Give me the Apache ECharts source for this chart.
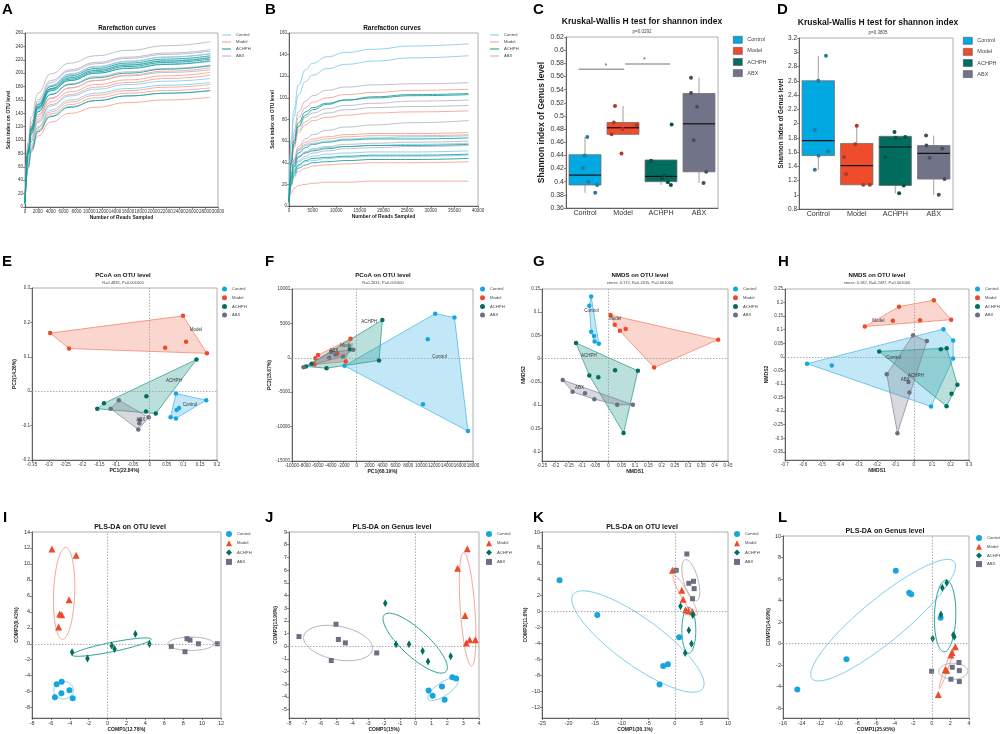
<!DOCTYPE html>
<html>
<head>
<meta charset="utf-8">
<title>Diversity panels A-L</title>
<script src="https://cdn.jsdelivr.net/npm/echarts@6/dist/echarts.min.js"></script>
<style>
    html, body { margin: 0; padding: 0; background: #fff; }
    #main { width: 1000px; height: 734px; }
</style>
</head>
<body>
<div id="main"></div>
<script>
var FONT = '"Liberation Sans", Arial, Helvetica, sans-serif';
var groups = ['Control', 'Model', 'ACHPH', 'ABX'];

// ---- A: rarefaction (OTU) ----
var rareA_x = [0, 500, 1000, 2000, 4000, 7000, 11000, 16000, 22000, 28800];
var rareA_Control = [
    [6, 84, 118, 152, 181, 198, 209, 217, 224, 229],
    [7, 82, 115, 148, 177, 194, 205, 213, 219, 224],
    [6, 80, 112, 145, 173, 189, 200, 208, 214, 219],
    [5, 70, 98, 126, 151, 166, 176, 183, 188, 192],
    [5, 66, 93, 120, 145, 160, 170, 177, 182, 186],
    [5, 62, 87, 113, 136, 150, 159, 166, 170, 174]];
var rareA_Model = [
    [6, 74, 104, 135, 162, 178, 189, 197, 203, 208],
    [6, 72, 101, 131, 157, 172, 183, 190, 196, 201],
    [5, 70, 98, 128, 153, 168, 179, 186, 192, 197],
    [5, 64, 90, 118, 142, 157, 167, 174, 179, 183],
    [5, 62, 88, 115, 139, 153, 163, 170, 174, 178],
    [5, 58, 82, 106, 127, 140, 149, 156, 160, 164]];
var rareA_ACHPH = [
    [7, 86, 120, 153, 180, 196, 207, 215, 221, 226],
    [6, 84, 117, 150, 177, 193, 204, 212, 218, 223],
    [6, 83, 116, 149, 176, 191, 202, 210, 216, 221],
    [6, 82, 114, 147, 174, 189, 200, 207, 213, 218],
    [6, 79, 110, 142, 168, 183, 193, 200, 206, 211],
    [5, 60, 85, 112, 135, 149, 159, 166, 170, 174]];
var rareA_ABX = [
    [8, 98, 135, 170, 199, 215, 226, 234, 241, 247],
    [7, 92, 127, 160, 189, 205, 216, 224, 230, 235],
    [6, 88, 123, 157, 186, 203, 214, 222, 228, 233],
    [7, 86, 120, 154, 182, 199, 210, 218, 224, 229],
    [6, 80, 112, 143, 169, 184, 195, 202, 207, 212],
    [6, 78, 108, 138, 163, 178, 189, 196, 201, 205]];

// ---- B: rarefaction (second dataset) ----
var rareB_x = [0, 500, 1000, 2000, 3500, 5000, 8000, 12000, 18000, 26000, 38000];
var rareB_Control = [
    [6, 62, 88, 112, 126, 132, 138, 142, 145, 148, 150],
    [6, 58, 82, 103, 115, 121, 127, 131, 134, 137, 139],
    [4, 30, 41, 51, 56, 58, 60, 62, 63, 64, 65],
    [4, 27, 37, 46, 50, 52, 54, 55, 56, 57, 58],
    [3, 24, 33, 41, 44, 46, 48, 49, 50, 50, 51],
    [3, 22, 30, 37, 41, 42, 44, 45, 46, 46, 47]];
var rareB_Model = [
    [5, 45, 64, 82, 91, 96, 100, 103, 105, 107, 108],
    [5, 38, 54, 68, 75, 79, 82, 84, 86, 87, 88],
    [4, 30, 42, 53, 59, 62, 64, 66, 67, 67, 68],
    [4, 29, 41, 52, 57, 60, 62, 64, 65, 65, 66],
    [3, 19, 26, 32, 35, 37, 38, 39, 40, 40, 41],
    [2, 12, 16, 19, 20, 21, 22, 22, 23, 23, 23]];
var rareB_ACHPH = [
    [5, 40, 57, 74, 84, 89, 94, 98, 101, 103, 104],
    [5, 42, 60, 77, 87, 91, 95, 98, 100, 102, 103],
    [4, 28, 39, 49, 54, 57, 59, 61, 62, 62, 63],
    [4, 26, 36, 45, 49, 51, 53, 55, 56, 56, 57],
    [3, 22, 31, 38, 42, 44, 45, 46, 47, 47, 48],
    [3, 20, 28, 35, 38, 40, 41, 42, 43, 43, 44]];
var rareB_ABX = [
    [5, 48, 68, 87, 97, 102, 107, 110, 112, 113, 114],
    [5, 40, 57, 73, 82, 86, 90, 93, 95, 97, 98],
    [5, 38, 54, 70, 78, 82, 86, 89, 91, 92, 93],
    [4, 30, 43, 55, 62, 66, 70, 73, 75, 77, 79],
    [4, 26, 36, 45, 50, 53, 55, 57, 58, 59, 60],
    [3, 24, 33, 42, 46, 49, 51, 53, 54, 55, 56]];

// ---- C / D: box plots [min, q1, median, q3, max] and sample points [x, y] ----
var boxC = [[0.383, 0.395, 0.41, 0.441, 0.468], [0.472, 0.472, 0.482, 0.49, 0.515],
            [0.395, 0.4, 0.408, 0.433, 0.433], [0.398, 0.415, 0.488, 0.534, 0.558]];
var ptsC_Control = [[0.06, 0.468], [-0.01, 0.44], [-0.05, 0.421], [0.09, 0.4], [0.32, 0.395], [0.27, 0.383]];
var ptsC_Model = [[0.79, 0.515], [0.76, 0.49], [1.36, 0.486], [0.99, 0.48], [0.7, 0.472], [0.96, 0.443]];
var ptsC_ACHPH = [[2.28, 0.487], [1.74, 0.432], [2.09, 0.41], [2.03, 0.405], [2.18, 0.399], [2.26, 0.395]];
var ptsC_ABX = [[2.79, 0.558], [2.79, 0.535], [2.95, 0.514], [2.86, 0.463], [3.19, 0.415], [3.12, 0.398]];
var sigC = [[-0.17, 1.03, 0.571], [1.06, 2.24, 0.579]];
var starsC = [['*', 0.55, 0.571], ['*', 1.56, 0.579]];

var boxD = [[1.35, 1.55, 1.76, 2.6, 2.95], [1.14, 1.14, 1.41, 1.72, 1.97],
            [1.02, 1.13, 1.67, 1.82, 1.82], [1.0, 1.22, 1.58, 1.69, 1.83]];
var ptsD_Control = [[0.2, 2.95], [0, 2.6], [-0.09, 1.91], [0.01, 1.55], [0.26, 1.61], [-0.09, 1.35]];
var ptsD_Model = [[1.0, 1.97], [0.96, 1.71], [0.67, 1.53], [0.72, 1.29], [1.17, 1.14], [1.34, 1.14]];
var ptsD_ACHPH = [[1.98, 1.88], [2.01, 1.8], [2.26, 1.81], [1.74, 1.53], [2.22, 1.13], [2.1, 1.02]];
var ptsD_ABX = [[2.8, 1.83], [2.81, 1.69], [2.89, 1.52], [3.22, 1.65], [3.28, 1.22], [3.13, 1.0]];

// ---- E-H: PCoA / NMDS ----
var pcoaE_Control = [[0.078, -0.007], [0.168, -0.026], [0.087, -0.049], [0.080, -0.055], [0.062, -0.076], [0.078, -0.079]];
var pcoaE_Model = [[-0.296, 0.169], [-0.240, 0.124], [0.099, 0.219], [0.046, 0.126], [0.108, 0.144], [0.170, 0.110]];
var pcoaE_ACHPH = [[0.139, 0.092], [-0.156, -0.051], [-0.136, -0.035], [-0.010, -0.015], [-0.011, -0.059], [0.018, -0.065]];
var pcoaE_ABX = [[-0.092, -0.026], [-0.116, -0.051], [-0.003, -0.076], [-0.031, -0.093], [-0.034, -0.111], [-0.030, -0.085]];
var labelsE = [['Model', 0.137, 0.179], ['ACHPH', 0.072, 0.030], ['Control', 0.120, -0.038], ['ABX', -0.027, -0.082]];

var pcoaF_Control = [[12150, 6420], [15130, 5840], [11000, 2680], [-1880, -1170], [10260, -6760], [17220, -10650]];
var pcoaF_Model = [[-940, 2770], [-5970, 390], [-6390, -50], [-1680, -530], [-2980, 580], [-6540, -970]];
var pcoaF_ACHPH = [[3980, 5500], [3460, -390], [-4660, -1510], [-1050, 1260], [-7850, -1260], [-6960, -880]];
var pcoaF_ABX = [[-8220, -1360], [-4240, 0], [-3300, 490], [-2090, 190], [-520, 1170], [-3930, 830]];
var labelsF = [['ACHPH', 1940, 5300], ['Control', 12830, 100], ['Model', -1570, 1700], ['ABX', -3560, 970]];

var nmdsG_Control = [[-0.065, 0.134], [-0.072, 0.114], [-0.065, 0.058], [-0.054, 0.049], [-0.052, 0.037], [-0.036, 0.032]];
var nmdsG_Model = [[0.008, 0.094], [0.024, 0.073], [0.043, 0.060], [0.065, 0.064], [0.413, 0.041], [0.172, -0.019]];
var nmdsG_ACHPH = [[-0.122, 0.034], [-0.072, -0.036], [-0.038, -0.040], [0.025, -0.025], [0.111, -0.026], [0.057, -0.160]];
var nmdsG_ABX = [[-0.172, -0.046], [-0.135, -0.071], [-0.088, -0.074], [-0.053, -0.087], [0.033, -0.099], [0.092, -0.099]];
var labelsG = [['Control', -0.064, 0.104], ['Model', 0.025, 0.086], ['ACHPH', -0.074, 0.006], ['ABX', -0.109, -0.063]];
var ticksG_y = [-0.2, -0.15, -0.1, -0.05, 0, 0.05, 0.1, 0.15];

var nmdsH_Control = [[-0.580, -0.025], [-0.446, -0.032], [0.161, 0.102], [0.214, 0.060], [0.214, -0.006], [0.094, -0.183]];
var nmdsH_Model = [[-0.266, 0.112], [-0.114, 0.133], [-0.080, 0.185], [0.034, 0.135], [0.109, 0.209], [0.203, 0.137]];
var nmdsH_ACHPH = [[-0.188, 0.020], [0.147, 0.028], [0.179, 0.032], [0.237, -0.103], [0.205, -0.136], [0.178, -0.182]];
var nmdsH_ABX = [[-0.004, 0.080], [0.071, 0.058], [-0.147, -0.064], [-0.029, -0.093], [-0.024, -0.131], [-0.089, -0.281]];
var labelsH = [['Model', -0.192, 0.133], ['Control', -0.110, -0.005], ['ACHPH', 0.011, -0.069], ['ABX', -0.047, -0.085]];
var ticksH_y = [-0.35, -0.3, -0.25, -0.2, -0.15, -0.1, -0.05, 0, 0.05, 0.1, 0.15, 0.2, 0.25];

// ---- I-L: PLS-DA scores; ellipses as [cx, cy, ux, uy, vx, vy] (centre + two conjugate semi-axes) ----
var plsI_Control = [[-5.57, -6.69], [-5.39, -5.06], [-4.86, -4.77], [-4.89, -6.19], [-4.04, -5.82], [-3.69, -6.82]];
var plsI_Model = [[-5.89, 11.88], [-3.33, 11.09], [-4.08, 5.52], [-5.07, 3.72], [-4.86, 3.64], [-5.18, 2.09]];
var plsI_ACHPH = [[-3.76, -1.05], [-2.13, -1.84], [0.43, -0.21], [0.74, -0.67], [2.94, 1.21], [4.43, -0.04]];
var plsI_ABX = [[6.74, -0.33], [8.40, 0.63], [8.72, 0.46], [8.19, -1.00], [9.61, 0], [11.60, 0]];
var ellI = [[-4.66, -5.82, 1.04, 0, 0, 1.09], [-4.6, 6.3, 0.17, 5.75, 1.12, 0],
            [0.43, -0.42, 4.18, 1.0, 0.1, -0.57], [8.81, 0, 2.43, 0, 0, 0.84]];
var ticksI_y = [-8, -6, -4, -2, 0, 2, 4, 6, 8, 10, 12, 14];

var plsJ_Control = [[0.82, -3.49], [1.07, -3.91], [1.66, -3.18], [1.83, -4.23], [2.32, -2.44], [2.55, -2.55]];
var plsJ_Model = [[2.65, 6.15], [3.26, 7.67], [3.12, 2.42], [3.20, 0.26], [3.41, 0.50], [3.77, 0.50]];
var plsJ_ACHPH = [[-1.92, 3.39], [-1.24, 0.16], [-0.42, 0.16], [0.44, -0.37], [0.78, -1.21], [2.21, -0.79]];
var plsJ_ABX = [[-7.37, 0.76], [-5.03, 1.73], [-4.88, 0.53], [-4.44, 0.26], [-2.46, -0.53], [-5.33, -1.13]];
var ellJ = [[1.73, -3.39, 0.93, 0.79, 0.24, -0.43], [3.28, 2.9, -0.25, 4.47, 0.46, 0.04],
            [-0.03, 0.24, 1.95, -2.23, -0.57, -0.78], [-4.9, 0.25, 2.17, -0.53, -0.2, -1.29]];
var ticksJ_y = [-5, -4, -3, -2, -1, 0, 1, 2, 3, 4, 5, 6, 7, 8, 9];

var plsK_Control = [[-21.7, 3.93], [-14.6, -0.42], [0.81, -3.22], [-2.19, -6.82], [-1.31, -6.61], [-2.88, -9.16]];
var plsK_Model = [[-0.44, 5.19], [1.31, 2.68], [1.57, 1.55], [2.0, 0.25], [2.57, 0.08], [3.32, 0]];
var plsK_ACHPH = [[1.06, 0.67], [3.38, -0.33], [3.38, -0.42], [2.63, -2.34], [3.13, -4.02], [1.94, -5.19]];
var plsK_ABX = [[0.25, 5.19], [2.25, 7.24], [2.63, 3.56], [3.51, 3.81], [3.63, 2.89], [3.32, 1.63]];
var ellK = [[-6.95, -3.75, 12.2, -5.9, -2.5, -2.4], [1.94, 2.05, 2.19, -2.51, 0.65, 0.25],
            [2.63, -2.34, 0, 2.89, 1.31, 0], [3.0, 3.93, -1.06, 2.59, 1.31, 0.25]];
var ticksK_y = [-12, -10, -8, -6, -4, -2, 0, 2, 4, 6, 8, 10];

var plsL_Control = [[-14.46, -4.29], [-9.18, -1.46], [-3.87, 6.77], [-2.43, 4.72], [-2.21, 4.57], [0.95, 2.39]];
var plsL_Model = [[0.70, -4.75], [1.45, -2.45], [1.60, -2.49], [2.06, -1.06], [2.17, -0.84], [2.53, -0.31]];
var plsL_ACHPH = [[0.09, 0.47], [1.13, 5.19], [1.60, 5.65], [0.98, 2.70], [2.31, 0.78], [2.42, 0.62]];
var plsL_ABX = [[-0.02, -2.58], [2.20, -2.21], [2.92, -1.77], [2.96, -2.52], [2.06, -3.32], [2.96, -3.54]];
var ellL = [[-5.23, 2.17, 7.65, 5.44, 1.47, -1.55], [1.6, -2.25, 0.79, 1.94, 0.17, -0.05],
            [1.43, 2.56, 0.1, 3.33, 1.15, 0], [2.31, -2.58, 1.56, 0, 0, 0.75]];
var ticksL_y = [-6, -4, -2, 0, 2, 4, 6, 8, 10];

// ---- colours ----
var col = {Control: '#16a5df', Model: '#ee4a2a', ACHPH: '#016f60', ABX: '#6c6f82'};
var rareCol = {Control: '#86cdec', Model: '#f4a494', ACHPH: '#1f9f9b', ABX: '#b6b7c6'};
var boxFill = {Control: '#00a9e2', Model: '#ef4c2c', ACHPH: '#006d5f', ABX: '#717489'};
var jitCol = {Control: '#2a7a99', Model: '#a93a2d', ACHPH: '#0c5247', ABX: '#4a4d5d'};
var hullCol = {Control: '#35b2e4', Model: '#f0765c', ACHPH: '#1d9486', ABX: '#7d8092'};
var ellCol = {Control: '#7ecfee', Model: '#f6a596', ACHPH: '#26a295', ABX: '#b2b2be'};
var plsSymbol = {Control: 'circle', Model: 'triangle', ACHPH: 'diamond', ABX: 'rect'};
var plsSize = {Control: 6, Model: 7, ACHPH: [4.5, 8], ABX: 5};

var option = {
    animation: false,
    backgroundColor: '#fff',
    textStyle: {fontFamily: FONT},
    grid: [], xAxis: [], yAxis: [], legend: [], series: [], graphic: []
};

function rgba(hex, a) {
    var n = parseInt(hex.slice(1), 16);
    return 'rgba(' + (n >> 16) + ',' + ((n >> 8) & 255) + ',' + (n & 255) + ',' + a + ')';
}

function plainNum(v) {
    return String(+(+v).toFixed(6));
}

function addText(x, y, text, size, bold, align, color) {
    align = align || 'center';
    option.graphic.push({
        type: 'text', x: x, y: y, silent: true,
        style: {text: text, fill: color || '#111', font: (bold ? 'bold ' : '') + size + 'px ' + FONT,
                align: align, verticalAlign: 'middle', textAlign: align, textVerticalAlign: 'middle'}
    });
}

function addGrid(l, t, w, h) {
    option.grid.push({left: l, top: t, width: w, height: h, show: true, backgroundColor: 'rgba(0,0,0,0)',
        borderColor: '#9a9a9a', borderWidth: 0.8, containLabel: false, outerBoundsMode: 'none'});
    return option.grid.length - 1;
}

function addAxis(list, gi, c) {
    var ax = {
        type: c.type || 'value', gridIndex: gi,
        axisLine: {show: true, onZero: false, lineStyle: {color: '#444', width: 0.8}},
        axisTick: {show: true, length: 2, lineStyle: {color: '#444', width: 0.6}},
        axisLabel: {fontSize: c.fs || 5, color: '#333', margin: 2, hideOverlap: false, fontFamily: FONT},
        splitLine: {show: false},
        nameLocation: 'middle', nameGap: c.gap || 8,
        nameTextStyle: {fontSize: c.nfs || 5, fontWeight: 'bold', color: '#222', fontFamily: FONT}
    };
    ['min', 'max', 'interval', 'name', 'data', 'boundaryGap'].forEach(function (k) {
        if (c[k] !== undefined) ax[k] = c[k];
    });
    if (ax.type === 'category') {
        ax.axisTick.alignWithLabel = true;
        ax.axisLabel.interval = 0;
    } else {
        ax.axisLabel.formatter = plainNum;
    }
    if (c.ticks) {
        delete ax.interval;
        ax.axisLabel.customValues = c.ticks;
        ax.axisTick.customValues = c.ticks;
    }
    list.push(ax);
    return list.length - 1;
}

function addLegend(left, top, kind, fs, gap) {
    var w = 5, h = 5;
    if (kind === 'line') { w = 9; h = 5; }
    if (kind === 'box') { w = 9; h = 7; }
    if (kind === 'mark') { w = 6; h = 6; }
    var data = groups.map(function (g) {
        if (kind === 'line') return {name: g, icon: 'path://M0,0h20v2.4h-20z', itemStyle: {color: rareCol[g], borderWidth: 0}};
        if (kind === 'box') return {name: g, icon: 'rect', itemStyle: {color: boxFill[g], borderColor: '#555', borderWidth: 0.6}};
        if (kind === 'mark') return {name: g, icon: plsSymbol[g], itemStyle: {color: col[g], borderWidth: 0}};
        return {name: g, icon: 'circle', itemStyle: {color: col[g], borderWidth: 0}};
    });
    option.legend.push({left: left, top: top, orient: 'vertical', padding: 0, itemGap: gap,
        itemWidth: w, itemHeight: h, selectedMode: false,
        textStyle: {fontSize: fs, color: '#444', fontFamily: FONT}, data: data});
}

function zeroLines() {
    return {silent: true, symbol: ['none', 'none'], label: {show: false}, animation: false,
        lineStyle: {color: '#9a9a9a', type: [1.5, 1.5], width: 0.8}, data: [{xAxis: 0}, {yAxis: 0}]};
}

function hull(pts) {
    var p = pts.slice().sort(function (a, b) { return a[0] - b[0] || a[1] - b[1]; });
    function cross(o, a, b) { return (a[0] - o[0]) * (b[1] - o[1]) - (a[1] - o[1]) * (b[0] - o[0]); }
    var lower = [], upper = [], i;
    for (i = 0; i < p.length; i++) {
        while (lower.length >= 2 && cross(lower[lower.length - 2], lower[lower.length - 1], p[i]) <= 0) lower.pop();
        lower.push(p[i]);
    }
    for (i = p.length - 1; i >= 0; i--) {
        while (upper.length >= 2 && cross(upper[upper.length - 2], upper[upper.length - 1], p[i]) <= 0) upper.pop();
        upper.push(p[i]);
    }
    upper.pop(); lower.pop();
    return lower.concat(upper);
}

function textSeries(xi, yi, items, size, color, va) {
    va = va || 'middle';
    return {
        type: 'custom', xAxisIndex: xi, yAxisIndex: yi, silent: true, z: 6,
        data: items.map(function (t) { return [t[1], t[2]]; }),
        renderItem: function (params, api) {
            var t = items[params.dataIndex];
            var p = api.coord([t[1], t[2]]);
            return {type: 'text', x: p[0], y: p[1],
                style: {text: t[0], fill: color, font: size + 'px ' + FONT,
                        align: 'center', verticalAlign: va, textAlign: 'center', textVerticalAlign: va}};
        }
    };
}

// ---------- rarefaction panels ----------
function rarePanel(g, xs, sets, xc, yc) {
    var gi = addGrid(g[0], g[1], g[2], g[3]);
    var xi = addAxis(option.xAxis, gi, xc);
    var yi = addAxis(option.yAxis, gi, yc);
    ['ABX', 'Model', 'Control', 'ACHPH'].forEach(function (grp) {
        sets[grp].forEach(function (curve) {
            option.series.push({
                type: 'line', name: grp, xAxisIndex: xi, yAxisIndex: yi, silent: true,
                data: xs.map(function (x, k) { return [x, curve[k]]; }),
                smooth: 0.5, smoothMonotone: 'x', showSymbol: false, symbol: 'none',
                lineStyle: {color: rareCol[grp], width: 0.9}, z: 2
            });
        });
    });
}

rarePanel([25, 33, 193, 174], rareA_x,
    {Control: rareA_Control, Model: rareA_Model, ACHPH: rareA_ACHPH, ABX: rareA_ABX},
    {min: 0, max: 30000, interval: 2000, name: 'Number of Reads Sampled', gap: 7.5, fs: 4.5, nfs: 5},
    {min: 0, max: 260, interval: 20, name: 'Sobs index on OTU level', gap: 12.5, fs: 4.5, nfs: 5});
rarePanel([289, 33, 189, 173], rareB_x,
    {Control: rareB_Control, Model: rareB_Model, ACHPH: rareB_ACHPH, ABX: rareB_ABX},
    {min: 0, max: 40000, interval: 5000, name: 'Number of Reads Sampled', gap: 8.5, fs: 4.5, nfs: 5},
    {min: 0, max: 160, interval: 20, name: 'Sobs index on OTU level', gap: 11, fs: 4.5, nfs: 5});
addLegend(222, 33, 'line', 4.2, 3);
addLegend(490, 33, 'line', 4.2, 3);

// ---------- box plot panels ----------
function boxPanel(g, stats, pts, yc, sig, stars) {
    var gi = addGrid(g[0], g[1], g[2], g[3]);
    var xi = addAxis(option.xAxis, gi, {type: 'category', data: groups, fs: 7.2, boundaryGap: true});
    option.xAxis.push({type: 'value', gridIndex: gi, min: -0.5, max: 3.5, show: false});
    var xj = option.xAxis.length - 1;
    var yi = addAxis(option.yAxis, gi, yc);
    option.series.push({
        type: 'custom', name: 'box', xAxisIndex: xi, yAxisIndex: yi, silent: true, z: 2,
        data: stats.map(function (s, i) { return [i, s[2]]; }),
        renderItem: function (params, api) {
            var i = params.dataIndex, s = stats[i];
            var x = api.coord([i, s[2]])[0];
            var w = (api.coord([1, s[2]])[0] - api.coord([0, s[2]])[0]) * 0.84;
            var y = s.map(function (v) { return api.coord([i, v])[1]; });
            return {type: 'group', children: [
                {type: 'line', shape: {x1: x, y1: y[0], x2: x, y2: y[1]}, style: {stroke: '#a0a0a0', lineWidth: 1}},
                {type: 'line', shape: {x1: x, y1: y[3], x2: x, y2: y[4]}, style: {stroke: '#a0a0a0', lineWidth: 1}},
                {type: 'rect', shape: {x: x - w / 2, y: y[3], width: w, height: y[1] - y[3]},
                    style: {fill: boxFill[groups[i]], stroke: '#6f6f6f', lineWidth: 0.8}},
                {type: 'line', shape: {x1: x - w / 2, y1: y[2], x2: x + w / 2, y2: y[2]}, style: {stroke: '#111', lineWidth: 1.2}}
            ]};
        }
    });
    groups.forEach(function (grp) {
        option.series.push({type: 'scatter', name: grp, xAxisIndex: xj, yAxisIndex: yi, silent: true, z: 4,
            data: pts[grp], symbol: 'circle', symbolSize: 4, itemStyle: {color: jitCol[grp], opacity: 1}});
    });
    (sig || []).forEach(function (s) {
        option.series.push({type: 'line', xAxisIndex: xj, yAxisIndex: yi, silent: true, z: 3,
            data: [[s[0], s[2]], [s[1], s[2]]], symbol: 'none', lineStyle: {color: '#a0a0a0', width: 1.6}});
    });
    if (stars) option.series.push(textSeries(xj, yi, stars, 7, '#555', 'bottom'));
}

boxPanel([566, 37, 152, 171], boxC,
    {Control: ptsC_Control, Model: ptsC_Model, ACHPH: ptsC_ACHPH, ABX: ptsC_ABX},
    {min: 0.36, max: 0.62, interval: 0.02, name: 'Shannon index of Genus level', gap: 19, fs: 7, nfs: 8.5},
    sigC, starsC);
boxPanel([799, 38, 154, 171], boxD,
    {Control: ptsD_Control, Model: ptsD_Model, ACHPH: ptsD_ACHPH, ABX: ptsD_ABX},
    {min: 0.8, max: 3.2, interval: 0.2, name: 'Shannon index of Genus level', gap: 14, fs: 6.5, nfs: 6.3});
addLegend(733, 36, 'box', 5.5, 3.5);
addLegend(963, 37, 'box', 5.5, 3.5);

// ---------- ordination panels with hulls ----------
function hullPanel(g, sets, labels, xc, yc) {
    var gi = addGrid(g[0], g[1], g[2], g[3]);
    var xi = addAxis(option.xAxis, gi, xc);
    var yi = addAxis(option.yAxis, gi, yc);
    var order = ['Model', 'Control', 'ACHPH', 'ABX'];
    option.series.push({
        type: 'custom', name: 'hull', xAxisIndex: xi, yAxisIndex: yi, silent: true, z: 1,
        data: order.map(function (grp) { return sets[grp][0]; }),
        renderItem: function (params, api) {
            var grp = order[params.dataIndex];
            var pts = hull(sets[grp]).map(function (p) { return api.coord(p); });
            return {type: 'polygon', shape: {points: pts},
                style: {fill: rgba(hullCol[grp], 0.3), stroke: rgba(hullCol[grp], 0.85), lineWidth: 0.8}};
        }
    });
    groups.forEach(function (grp, k) {
        var s = {type: 'scatter', name: grp, xAxisIndex: xi, yAxisIndex: yi, silent: true, z: 4,
            data: sets[grp], symbol: 'circle', symbolSize: 4.5, itemStyle: {color: col[grp], opacity: 1}};
        if (k === 0) s.markLine = zeroLines();
        option.series.push(s);
    });
    option.series.push(textSeries(xi, yi, labels, 4.5, '#333'));
}

hullPanel([32, 288, 185, 172],
    {Control: pcoaE_Control, Model: pcoaE_Model, ACHPH: pcoaE_ACHPH, ABX: pcoaE_ABX}, labelsE,
    {min: -0.35, max: 0.2, interval: 0.05, name: 'PC1(22.84%)', gap: 7.5, fs: 4.5},
    {min: -0.2, max: 0.3, interval: 0.1, name: 'PC2(14.26%)', gap: 14.5, fs: 4.5});
hullPanel([292, 289, 181, 172],
    {Control: pcoaF_Control, Model: pcoaF_Model, ACHPH: pcoaF_ACHPH, ABX: pcoaF_ABX}, labelsF,
    {min: -10000, max: 18000, interval: 2000, name: 'PC1(68.19%)', gap: 8.5, fs: 4.5},
    {min: -15000, max: 10000, interval: 5000, name: 'PC2(15.67%)', gap: 17.5, fs: 4.5});
hullPanel([542, 289, 186, 172],
    {Control: nmdsG_Control, Model: nmdsG_Model, ACHPH: nmdsG_ACHPH, ABX: nmdsG_ABX}, labelsG,
    {min: -0.25, max: 0.45, interval: 0.05, name: 'NMDS1', gap: 7.5, fs: 4.5},
    {min: -0.22, max: 0.15, ticks: ticksG_y, name: 'NMDS2', gap: 15.5, fs: 4.5});
hullPanel([785, 289, 184, 171],
    {Control: nmdsH_Control, Model: nmdsH_Model, ACHPH: nmdsH_ACHPH, ABX: nmdsH_ABX}, labelsH,
    {min: -0.7, max: 0.3, interval: 0.1, name: 'NMDS1', gap: 8.5, fs: 4.5},
    {min: -0.38, max: 0.25, ticks: ticksH_y, name: 'NMDS2', gap: 10.5, fs: 4.5});
addLegend(222, 286.5, 'dot', 4.2, 3.7);
addLegend(480, 286.5, 'dot', 4.2, 3.7);
addLegend(733, 286.5, 'dot', 4.2, 3.7);
addLegend(975, 286.5, 'dot', 4.2, 3.7);

// ---------- PLS-DA panels with ellipses ----------
function plsPanel(g, sets, ells, xc, yc) {
    var gi = addGrid(g[0], g[1], g[2], g[3]);
    var xi = addAxis(option.xAxis, gi, xc);
    var yi = addAxis(option.yAxis, gi, yc);
    option.series.push({
        type: 'custom', name: 'ellipse', xAxisIndex: xi, yAxisIndex: yi, silent: true, z: 2,
        data: ells.map(function (e) { return [e[0], e[1]]; }),
        renderItem: function (params, api) {
            var e = ells[params.dataIndex];
            var c = api.coord([e[0], e[1]]);
            var pu = api.coord([e[0] + e[2], e[1] + e[3]]);
            var pv = api.coord([e[0] + e[4], e[1] + e[5]]);
            var ux = pu[0] - c[0], uy = pu[1] - c[1], vx = pv[0] - c[0], vy = pv[1] - c[1];
            var pts = [];
            for (var k = 0; k <= 90; k++) {
                var t = k / 90 * 2 * Math.PI;
                pts.push([c[0] + ux * Math.cos(t) + vx * Math.sin(t), c[1] + uy * Math.cos(t) + vy * Math.sin(t)]);
            }
            return {type: 'polyline', shape: {points: pts},
                style: {stroke: ellCol[groups[params.dataIndex]], fill: null, lineWidth: 1}};
        }
    });
    groups.forEach(function (grp, k) {
        var s = {type: 'scatter', name: grp, xAxisIndex: xi, yAxisIndex: yi, silent: true, z: 4,
            data: sets[grp], symbol: plsSymbol[grp], symbolSize: plsSize[grp], itemStyle: {color: col[grp], opacity: 1}};
        if (k === 0) s.markLine = zeroLines();
        option.series.push(s);
    });
}

plsPanel([32, 532, 189, 186],
    {Control: plsI_Control, Model: plsI_Model, ACHPH: plsI_ACHPH, ABX: plsI_ABX}, ellI,
    {min: -8, max: 12, interval: 2, name: 'COMP1(12.78%)', gap: 7.5, fs: 5.5},
    {min: -9.3, max: 14, ticks: ticksI_y, name: 'COMP2(9.41%)', gap: 12.5, fs: 5.5});
plsPanel([289, 532, 190, 186],
    {Control: plsJ_Control, Model: plsJ_Model, ACHPH: plsJ_ACHPH, ABX: plsJ_ABX}, ellJ,
    {min: -8, max: 4, interval: 1, name: 'COMP1(15%)', gap: 7.5, fs: 5.5},
    {min: -5.66, max: 9, ticks: ticksJ_y, name: 'COMP2(13.96%)', gap: 8.5, fs: 5.5});
plsPanel([542, 532, 186, 186],
    {Control: plsK_Control, Model: plsK_Model, ACHPH: plsK_ACHPH, ABX: plsK_ABX}, ellK,
    {min: -25, max: 10, interval: 5, name: 'COMP1(30.1%)', gap: 7, fs: 5.5},
    {min: -13.35, max: 10, ticks: ticksK_y, name: 'COMP2(11.6%)', gap: 12.5, fs: 5.5});
plsPanel([783, 536, 186, 182],
    {Control: plsL_Control, Model: plsL_Model, ACHPH: plsL_ACHPH, ABX: plsL_ABX}, ellL,
    {min: -16, max: 4, interval: 2, name: 'COMP1(25.95%)', gap: 7.5, fs: 5.5},
    {min: -6.93, max: 10, ticks: ticksL_y, name: 'COMP2(14.69%)', gap: 9.5, fs: 5.5});
addLegend(226, 531, 'mark', 4.2, 3.3);
addLegend(486, 531, 'mark', 4.2, 3.3);
addLegend(734, 531, 'mark', 4.2, 3.3);
addLegend(976, 535, 'mark', 4.2, 2.7);

// ---------- titles, subtitles, panel letters ----------
addText(127, 28, 'Rarefaction curves', 6.4, true);
addText(392, 28, 'Rarefaction curves', 6.4, true);
addText(642, 22, 'Kruskal-Wallis H test for shannon index', 8.5, true);
addText(642, 32, 'p=0.0292', 4.5, false, 'center', '#444');
addText(878, 23, 'Kruskal-Wallis H test for shannon index', 8.5, true);
addText(878, 33, 'p=0.3805', 4.5, false, 'center', '#444');
addText(123, 275, 'PCoA on OTU level', 6.1, true);
addText(123, 283, 'R=0.4835, P=0.001000', 4, false, 'center', '#444');
addText(383, 275, 'PCoA on OTU level', 6.1, true);
addText(383, 283, 'R=0.2631, P=0.001000', 4, false, 'center', '#444');
addText(640, 275, 'NMDS on OTU level', 6.1, true);
addText(640, 283, 'stress: 0.172, R=0.4315, P=0.001000', 4, false, 'center', '#444');
addText(877, 275, 'NMDS on OTU level', 6.1, true);
addText(877, 283, 'stress: 0.182, R=0.2497, P=0.001000', 4, false, 'center', '#444');
addText(130, 527, 'PLS-DA on OTU level', 7.1, true);
addText(392, 527, 'PLS-DA on Genus level', 7.1, true);
addText(642, 527, 'PLS-DA on OTU level', 7.1, true);
addText(885, 531, 'PLS-DA on Genus level', 7.1, true);

[['A', 2, 10], ['B', 265, 10], ['C', 533, 10], ['D', 777, 10],
 ['E', 2, 262], ['F', 265, 262], ['G', 533, 262], ['H', 778, 262],
 ['I', 3, 518], ['J', 265, 518], ['K', 533, 518], ['L', 778, 518]].forEach(function (l) {
    addText(l[1], l[2], l[0], 15, true, 'left', '#000');
});

var chart = echarts.init(document.getElementById('main'), null, {renderer: 'canvas'});
chart.setOption(option);
</script>
</body>
</html>
